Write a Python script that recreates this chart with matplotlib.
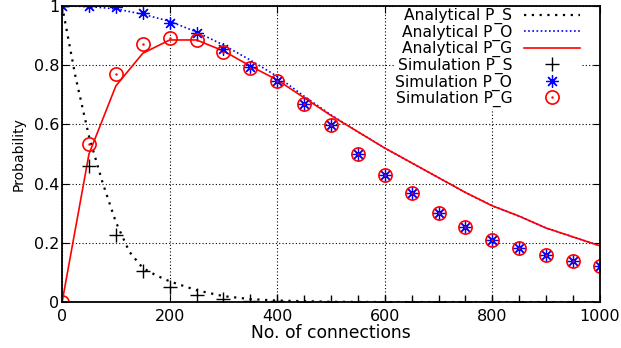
import numpy as np
import matplotlib.pyplot as plt
from matplotlib.legend_handler import HandlerTuple

plt.rcParams['font.family'] = ['DejaVu Sans']

# --- data
x_sim = [0, 50, 100, 150, 200, 250, 300, 350, 400, 450, 500,
         550, 600, 650, 700, 750, 800, 850, 900, 950, 1000]
sim_ps = [1.0, 0.46, 0.225, 0.105, 0.05, 0.025, 0.01, 0.005, 0.002, 0.001, 0.0,
          0.0, 0.0, 0.0, 0.0, 0.0, 0.0, 0.0, 0.0, 0.0, 0.0]
sim_po = [1.0, 1.0, 0.995, 0.977, 0.943, 0.908, 0.855, 0.795, 0.745, 0.668, 0.597,
          0.50, 0.43, 0.367, 0.30, 0.255, 0.21, 0.183, 0.16, 0.14, 0.123]
sim_pg = [0.0, 0.535, 0.77, 0.87, 0.89, 0.885, 0.845, 0.79, 0.745, 0.668, 0.597,
          0.50, 0.43, 0.367, 0.30, 0.255, 0.21, 0.183, 0.16, 0.14, 0.123]

x_ps = [0, 25, 50, 75, 100, 125, 150, 175, 200, 250, 300, 350, 400, 450, 500, 600, 800, 1000]
ana_ps = [1.0, 0.76, 0.56, 0.405, 0.27, 0.17, 0.115, 0.09, 0.07, 0.04, 0.02, 0.01,
          0.005, 0.003, 0.001, 0.0, 0.0, 0.0]

x_ana = [0, 50, 100, 150, 200, 250, 300, 350, 400, 450, 500,
         550, 600, 650, 700, 750, 800, 850, 900, 950, 1000]
ana_po = [1.0, 0.998, 0.99, 0.972, 0.948, 0.912, 0.868, 0.817, 0.762, 0.695, 0.632,
          0.575, 0.52, 0.47, 0.42, 0.37, 0.325, 0.29, 0.25, 0.22, 0.19]
ana_pg = [0.0, 0.5, 0.73, 0.84, 0.885, 0.885, 0.848, 0.797, 0.75, 0.69, 0.63,
          0.575, 0.52, 0.47, 0.42, 0.37, 0.325, 0.29, 0.25, 0.22, 0.19]

fig = plt.figure(figsize=(6.21, 3.48), dpi=100, facecolor="white")
ax = fig.add_axes([0.100, 0.132, 0.866, 0.851])

l1, = ax.plot(x_ps, ana_ps, color="black", linestyle=(0, (1, 2.5)), lw=1.6)
l2, = ax.plot(x_ana, ana_po, color="blue", linestyle=(0, (1, 1.5)), lw=1.2)
l3, = ax.plot(x_ana, ana_pg, color="red", lw=1.2)
m1, = ax.plot(x_sim, sim_ps, "+", color="black", ms=10, mew=1.0, ls="none")
m2, = ax.plot(x_sim, sim_po, marker=(8, 2, 0), color="blue", ms=9, mew=0.9, ls="none")
m3, = ax.plot(x_sim, sim_pg, "o", mfc="none", mec="red", ms=9.5, mew=1.2, ls="none")
d3, = ax.plot(x_sim, sim_pg, ".", color="red", ms=1.5, ls="none")

ax.set_xlim(0, 1000)
ax.set_ylim(0, 1)
ax.set_xticks([0, 200, 400, 600, 800, 1000])
ax.set_yticks([0, 0.2, 0.4, 0.6, 0.8, 1])
ax.set_yticklabels(["0", "0.2", "0.4", "0.6", "0.8", "1"])
ax.grid(True, color="black", linestyle=(0, (1, 2)), lw=0.8)
ax.tick_params(direction="in", top=True, right=True, length=5, labelsize=11.5)
ax.tick_params(axis="y", pad=2)
ax.tick_params(axis="x", pad=5)
for s in ax.spines.values():
    s.set_linewidth(1.3)

ax.set_xlabel("No. of connections", fontsize=12.3, labelpad=0)
ax.set_ylabel("Probability", fontsize=10, labelpad=6)

leg = ax.legend([l1, l2, l3, m1, m2, (m3, d3)],
                ["Analytical P_S", "Analytical P_O", "Analytical P_G",
                 "Simulation P_S", "Simulation P_O", "Simulation P_G"],
                handler_map={tuple: HandlerTuple(ndivide=1)},
                loc="upper right", markerfirst=False, frameon=True, fontsize=11.2,
                handlelength=3.6, labelspacing=0.02, borderaxespad=0.05,
                borderpad=0.1, handletextpad=0.75, fancybox=False,
                bbox_to_anchor=(0.967, 1.0))
leg.get_frame().set_edgecolor("none")
leg.get_frame().set_facecolor("white")
leg.get_frame().set_alpha(1)

plt.savefig("out.png", dpi=100, facecolor="white")
